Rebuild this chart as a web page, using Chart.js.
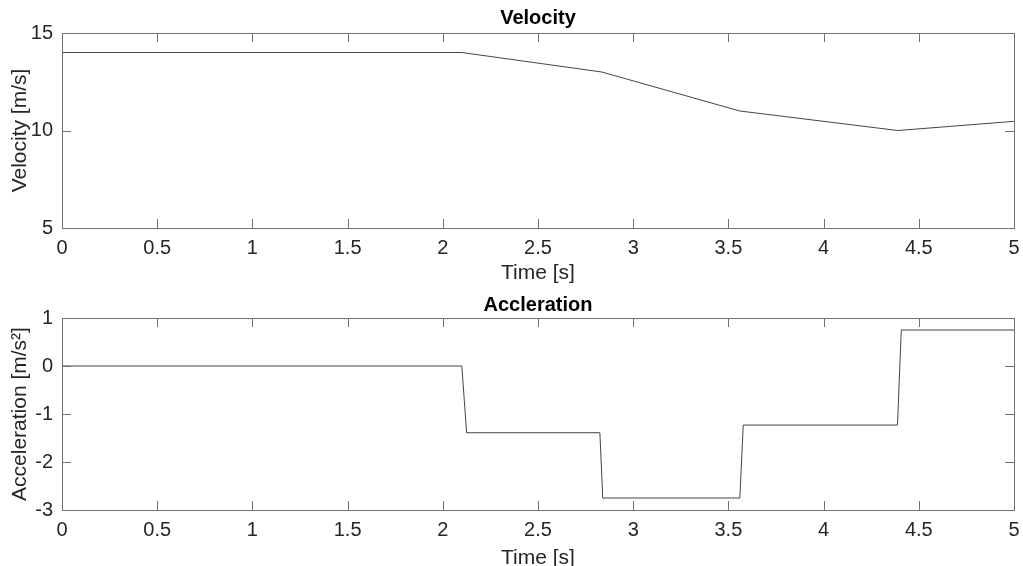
<!DOCTYPE html>
<html>
<head>
<meta charset="utf-8">
<title>Velocity and Acceleration</title>
<script src="https://cdn.jsdelivr.net/npm/chart.js@4.4.1/dist/chart.umd.min.js"></script>
<style>
  html, body { margin: 0; padding: 0; background: #fff; }
  .plot { position: absolute; left: 0; width: 1023px; height: 283px; }
  #top { top: 0; }
  #bottom { top: 283px; }
</style>
</head>
<body>
<div class="plot" id="top"><canvas id="velChart"></canvas></div>
<div class="plot" id="bottom"><canvas id="accChart"></canvas></div>
<script>
// velocity samples (s, m/s)
const velTime = [0, 2.1, 2.835, 3.56, 4.39, 5]
const velValues = [14, 14, 13, 11, 10, 10.47]

// acceleration samples (s, m/s^2)
const accTime = [0, 2.1, 2.125, 2.825, 2.84, 3.56, 3.578, 4.388, 4.408, 5]
const accValues = [0, 0, -1.39, -1.39, -2.75, -2.75, -1.23, -1.23, 0.75, 0.75]

// tick labels
const timeTicks = [0, 0.5, 1, 1.5, 2, 2.5, 3, 3.5, 4, 4.5, 5]
const velTicks = [5, 10, 15]
const accTicks = [-3, -2, -1, 0, 1]

const textColor = "#262626"
const boxColor = "#707070"
const fontFamily = "'Liberation Sans', Arial, sans-serif"

// matlab style box with inward ticks on all four sides
const boxPlugin = {
  id: "matlabBox",
  afterDraw(chart) {
    const { ctx, chartArea: a, scales } = chart
    const len = 9
    ctx.save()
    ctx.strokeStyle = boxColor
    ctx.lineWidth = 1
    ctx.beginPath()
    scales.x.ticks.forEach(t => {
      const px = Math.round(scales.x.getPixelForValue(t.value)) + 0.5
      ctx.moveTo(px, a.bottom)
      ctx.lineTo(px, a.bottom - len)
      ctx.moveTo(px, a.top)
      ctx.lineTo(px, a.top + len)
    })
    scales.y.ticks.forEach(t => {
      const py = Math.round(scales.y.getPixelForValue(t.value)) + 0.5
      ctx.moveTo(a.left, py)
      ctx.lineTo(a.left + len, py)
      ctx.moveTo(a.right, py)
      ctx.lineTo(a.right - len, py)
    })
    ctx.stroke()
    ctx.strokeRect(
      Math.round(a.left) + 0.5,
      Math.round(a.top) + 0.5,
      Math.round(a.right - a.left),
      Math.round(a.bottom - a.top)
    )
    ctx.restore()
  },
}

function makeChart(id, time, values, opts) {
  const ctx = document.getElementById(id).getContext("2d")
  return new Chart(ctx, {
    type: "line",
    data: {
      datasets: [
        {
          data: time.map((t, i) => ({ x: t, y: values[i] })),
          borderColor: "#454545",
          borderWidth: 1,
          pointRadius: 0,
          tension: 0,
        },
      ],
    },
    options: {
      responsive: true,
      maintainAspectRatio: false,
      animation: false,
      events: [],
      layout: { padding: { left: 0, right: 9, top: 0, bottom: 0 } },
      plugins: {
        legend: { display: false },
        tooltip: { enabled: false },
        title: {
          display: true,
          text: opts.title,
          fullSize: false,
          color: "#000",
          font: { family: fontFamily, size: 20, weight: "bold", lineHeight: 1.2 },
          padding: opts.titlePad,
        },
      },
      scales: {
        x: {
          type: "linear",
          min: 0,
          max: 5,
          afterBuildTicks: s => {
            s.ticks = timeTicks.map(v => ({ value: v }))
          },
          afterFit: s => {
            s.height = opts.xHeight
            s.paddingLeft = 0
            s.paddingRight = 0
          },
          ticks: {
            color: textColor,
            font: { family: fontFamily, size: 20 },
            padding: 8,
            maxRotation: 0,
            autoSkip: false,
            callback: v => String(v),
          },
          grid: { display: false, drawTicks: false },
          border: { display: false },
          title: {
            display: true,
            text: "Time [s]",
            color: textColor,
            font: { family: fontFamily, size: 21, lineHeight: 1 },
            padding: { top: 0, bottom: opts.xTitleBottom },
          },
        },
        y: {
          type: "linear",
          min: opts.yTicks[0],
          max: opts.yTicks[opts.yTicks.length - 1],
          afterBuildTicks: s => {
            s.ticks = opts.yTicks.map(v => ({ value: v }))
          },
          afterFit: s => {
            s.width = 62
            s.paddingTop = 0
            s.paddingBottom = 0
          },
          ticks: {
            color: textColor,
            font: { family: fontFamily, size: 20 },
            padding: 9,
            callback: v => String(v),
          },
          grid: { display: false, drawTicks: false },
          border: { display: false },
          title: {
            display: true,
            text: opts.yLabel,
            color: textColor,
            font: { family: fontFamily, size: 21, lineHeight: 1.2 },
            padding: { top: 8, bottom: 0 },
          },
        },
      },
    },
    plugins: [boxPlugin],
  })
}

makeChart("velChart", velTime, velValues, {
  title: "Velocity",
  titlePad: { top: 6, bottom: 3 },
  yTicks: velTicks,
  yLabel: "Velocity [m/s]",
  xHeight: 55,
  xTitleBottom: -1,
})

makeChart("accChart", accTime, accValues, {
  title: "Accleration",
  titlePad: { top: 10, bottom: 1 },
  yTicks: accTicks,
  yLabel: "Acceleration [m/s²]",
  xHeight: 56,
  xTitleBottom: -3,
})
</script>
</body>
</html>
